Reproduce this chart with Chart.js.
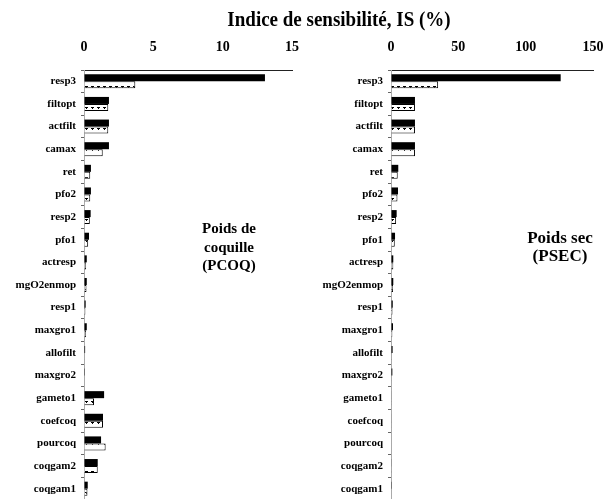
<!DOCTYPE html>
<html>
<head>
<meta charset="utf-8">
<script src="https://cdn.jsdelivr.net/npm/chart.js@4/dist/chart.umd.min.js"></script>
<style>
  html, body { margin: 0; padding: 0; background: #fff; width: 603px; height: 499px; overflow: hidden; }
  #wrap { position: relative; width: 603px; height: 499px; }
  canvas { position: absolute; top: 0; }
  .txt { position: absolute; font-family: "Liberation Serif", "Times New Roman", serif; font-weight: bold; color: #000; white-space: nowrap; text-align: center; }
</style>
</head>
<body>
<div id="wrap">
  <canvas id="c1" width="310" height="500" style="left:0px"></canvas>
  <canvas id="c2" width="303" height="500" style="left:300px"></canvas>
  <div class="txt" style="left:339px; top:7px; font-size:20px; line-height:24px; transform:translateX(-50%) scaleX(0.95);">Indice de sensibilité, IS (%)</div>
  <div class="txt" style="left:229px; top:219px; font-size:15px; line-height:18.5px; transform:translateX(-50%);">Poids de<br>coquille<br>(PCOQ)</div>
  <div class="txt" style="left:560px; top:229px; font-size:17px; line-height:17.5px; transform:translateX(-50%);">Poids sec<br>(PSEC)</div>
</div>
<script>
const categories = ["resp3","filtopt","actfilt","camax","ret","pfo2","resp2","pfo1","actresp","mgO2enmop","resp1","maxgro1","allofilt","maxgro2","gameto1","coefcoq","pourcoq","coqgam2","coqgam1"];

const pcoqBlack = [13.05, 1.8, 1.8, 1.8, 0.5, 0.5, 0.48, 0.36, 0.2, 0.2, 0.12, 0.2, 0.08, 0.06, 1.45, 1.37, 1.23, 0.99, 0.27];
const pcoqHatch = [3.7, 1.75, 1.75, 1.35, 0.45, 0.45, 0.42, 0.3, 0.15, 0.18, 0.1, 0.15, 0.05, 0.04, 0.72, 1.37, 1.56, 0.99, 0.25];
const psecBlack = [126, 17.8, 17.8, 17.8, 5.4, 5.2, 4.2, 3.0, 1.7, 1.7, 1.3, 1.5, 1.2, 1.0, 0.4, 0.4, 0, 0.3, 0.6];
const psecHatch = [35, 17.8, 17.8, 17.8, 5.0, 4.8, 3.8, 2.8, 1.7, 1.5, 1.1, 1.0, 0.6, 0.5, 0.2, 0.2, 0, 0.2, 0.4];
const pcoqTicks = [0, 5, 10, 15];
const psecTicks = [0, 50, 100, 150];

function makePattern() {
  const p = document.createElement('canvas');
  p.width = 6; p.height = 7;
  const g = p.getContext('2d');
  g.fillStyle = '#fff'; g.fillRect(0, 0, 6, 7);
  g.fillStyle = '#000';
  g.fillRect(1, 2, 3, 1);
  g.fillRect(2, 3, 1, 1);
  return g.createPattern(p, 'repeat');
}
const hatch = makePattern();
const FONT = "'Liberation Serif', 'Times New Roman', serif";

function build(canvasId, black, hatched, ticks, yWidth, padRight) {
  const tmin = ticks[0], tmax = ticks[ticks.length - 1];
  return new Chart(document.getElementById(canvasId), {
    type: 'bar',
    data: {
      labels: categories,
      datasets: [
        { data: black, backgroundColor: '#000', borderWidth: 0, categoryPercentage: 0.62, barPercentage: 1.0 },
        { data: hatched, backgroundColor: hatch, borderColor: '#000', borderWidth: 1, categoryPercentage: 0.62, barPercentage: 1.0 }
      ]
    },
    options: {
      indexAxis: 'y',
      responsive: false,
      animation: false,
      layout: { padding: { left: 0, right: padRight, top: 0, bottom: 0 } },
      plugins: { legend: { display: false }, tooltip: { enabled: false }, title: { display: false } },
      scales: {
        x: {
          position: 'top',
          min: tmin, max: tmax,
          afterBuildTicks: (s) => { s.ticks = ticks.map(v => ({ value: v })); },
          ticks: { color: '#000', padding: 14, font: { family: FONT, size: 14, weight: 'bold' } },
          grid: { display: true, drawOnChartArea: false, drawTicks: false },
          border: { display: true, color: '#222', width: 1 },
          afterFit: (s) => { s.height = 70; s.paddingLeft = 0; s.paddingRight = 0; }
        },
        y: {
          ticks: { color: '#000', padding: 5, font: { family: FONT, size: 11, weight: 'bold' } },
          grid: { display: true, drawOnChartArea: false, drawTicks: true, tickLength: 3, tickColor: '#666' },
          border: { display: true, color: '#aaa', width: 1 },
          afterFit: (s) => { s.width = yWidth; s.paddingTop = 0; s.paddingBottom = 0; }
        }
      }
    }
  });
}
build('c1', pcoqBlack, pcoqHatch, pcoqTicks, 84, 18);
build('c2', psecBlack, psecHatch, psecTicks, 91, 10);
</script>
</body>
</html>
